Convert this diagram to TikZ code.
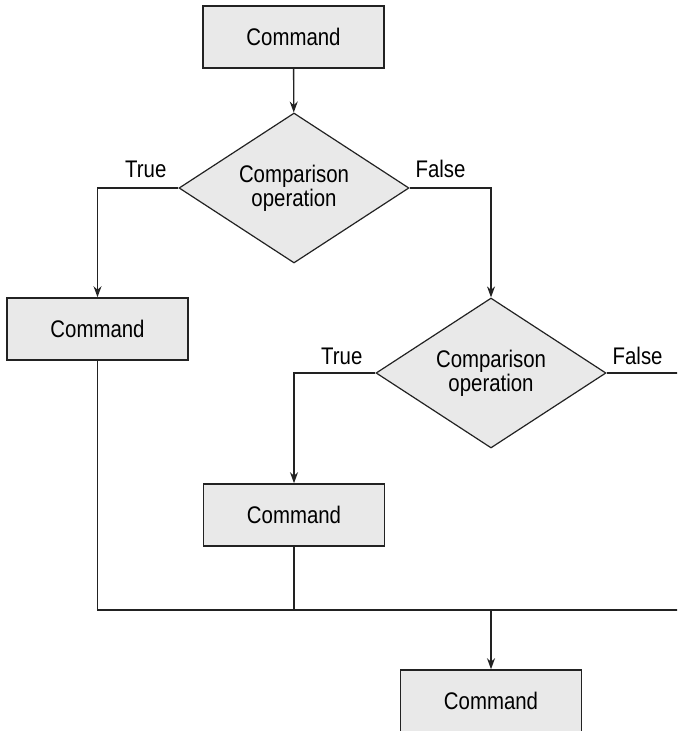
\documentclass[tikz,border=0pt]{standalone}
\usepackage{fontspec}
\setmainfont{Liberation Sans}[FakeStretch=0.85]
\usepackage{xcolor}
\usetikzlibrary{shapes.geometric,arrows.meta,positioning}
\definecolor{boxgray}{HTML}{E9E9E9}
\definecolor{linegray}{HTML}{222222}

\begin{document}
\begin{tikzpicture}[x=0.5pt, y=-0.5pt, font=\fontsize{12}{12.2}\selectfont,
  >={Stealth[length=5.5pt,width=4pt]}, line width=0.65pt, draw=linegray,
  cmdbox/.style={draw=linegray, line width=0.8pt, fill=boxgray, rectangle, minimum width=90.5pt, minimum height=31pt},
  compare/.style={draw=linegray, line width=0.6pt, fill=boxgray, diamond, aspect=1.53, minimum width=115pt, minimum height=75pt, align=center, inner sep=0pt},
  lbl/.style={inner sep=0pt}]
\clip (0,0) rectangle (677,731);

\node[cmdbox] (cmd1) at (293.5,37) {Command};
\node[compare] (cmp1) at (294,188) {Comparison\\operation};
\node[cmdbox] (cmd2) at (97.5,329) {Command};
\node[compare] (cmp2) at (491,373) {Comparison\\operation};
\node[cmdbox] (cmd3) at (294,515) {Command};
\node[cmdbox] (cmd4) at (491,701) {Command};

\node[lbl, anchor=base east] (true1) at (167,178) {True};
\node[lbl, anchor=base west] (false1) at (415,178) {False};
\node[lbl, anchor=base east] (true2) at (363,364) {True};
\node[lbl, anchor=base west] (false2) at (612,364) {False};

\coordinate (out2) at (680,373);
\coordinate (join) at (491,610);
\coordinate (joinend) at (680,610);

\draw[->] (cmd1) -- (cmp1);
\draw[->] (cmp1.west) -| (cmd2);
\draw[->] (cmp1.east) -| (cmp2);
\draw[->] (cmp2.west) -| (cmd3);
\draw (cmp2.east) -- (out2);
\draw (cmd2) |- (joinend);
\draw (cmd3) -- (cmd3 |- join);
\draw[->] (join) -- (cmd4);
\end{tikzpicture}
\end{document}
